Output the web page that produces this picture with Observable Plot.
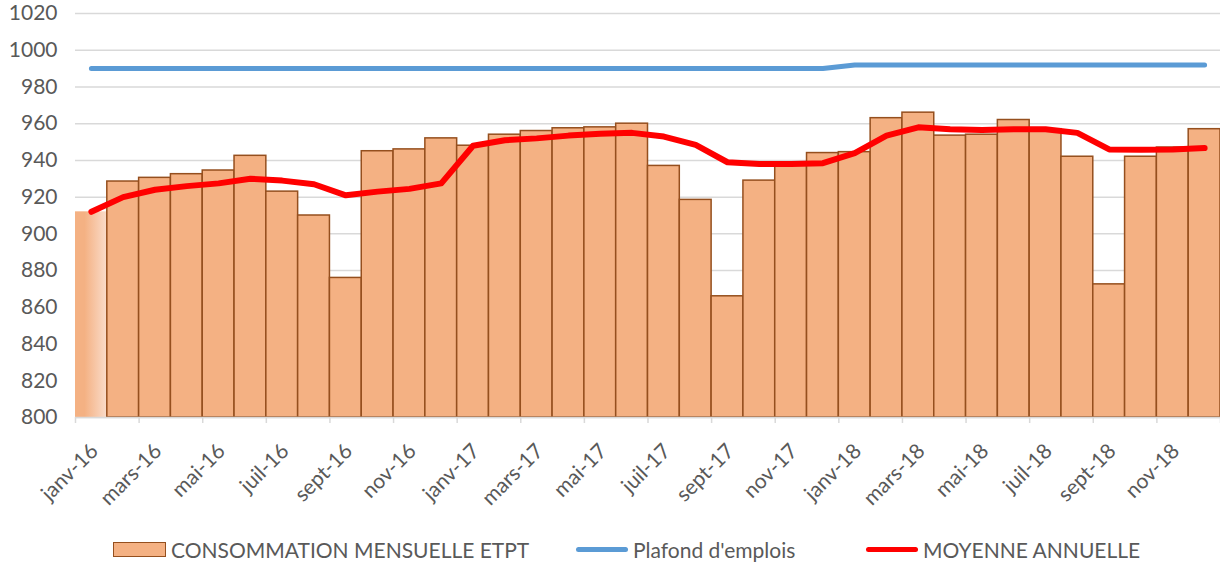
<!DOCTYPE html>
<html><head><meta charset="utf-8">
<script src="https://cdn.jsdelivr.net/npm/d3@7"></script>
<script src="https://cdn.jsdelivr.net/npm/@observablehq/plot@0.6"></script>
<style>
body{margin:0;background:#fff;font-family:Lato,"Open Sans",sans-serif;}
#chart svg{display:block;}
#legend{position:relative;height:55px;color:#595959;font-size:21px;}
.item{position:absolute;top:19px;display:flex;align-items:center;height:40px;white-space:nowrap;}
.sw-bar{width:51px;height:13px;background:#F4B183;border:1.5px solid #954F1E;margin-right:5px;}
.sw-line{width:52px;height:5px;border-radius:3px;margin-right:5px;}
</style></head><body>
<div id="chart"></div>
<div id="legend">
  <div class="item" style="left:113px"><div class="sw-bar"></div><span>CONSOMMATION MENSUELLE ETPT</span></div>
  <div class="item" style="left:576px"><div class="sw-line" style="background:#5B9BD5"></div><span>Plafond d'emplois</span></div>
  <div class="item" style="left:866px"><div class="sw-line" style="background:#FF0000"></div><span>MOYENNE ANNUELLE</span></div>
</div>
<script>
const months = ["janv-16","févr-16","mars-16","avr-16","mai-16","juin-16","juil-16","août-16","sept-16","oct-16","nov-16","déc-16",
  "janv-17","févr-17","mars-17","avr-17","mai-17","juin-17","juil-17","août-17","sept-17","oct-17","nov-17","déc-17",
  "janv-18","févr-18","mars-18","avr-18","mai-18","juin-18","juil-18","août-18","sept-18","oct-18","nov-18","déc-18"];
const consommation = [912, 928.5, 930.5, 932.5, 934.5, 942.5, 923, 910, 876, 945, 946, 952,
  948, 954, 956, 957.5, 958, 960, 937, 918.5, 866, 929, 938, 944,
  944.5, 963, 966, 953.5, 954, 962, 957, 942, 872.5, 942, 947, 957];
const plafond = [990, 990, 990, 990, 990, 990, 990, 990, 990, 990, 990, 990,
  990, 990, 990, 990, 990, 990, 990, 990, 990, 990, 990, 990,
  992, 992, 992, 992, 992, 992, 992, 992, 992, 992, 992, 992];
const moyenne = [912, 920, 924, 926, 927.5, 930, 929, 927, 921, 923, 924.5, 927.5,
  948, 951, 952, 953.5, 954.5, 955, 953, 948.5, 939, 938, 938, 938.5,
  944, 953.5, 958, 957, 956.5, 957, 957, 955, 946, 945.8, 946, 946.7];
const yTicks = [800, 820, 840, 860, 880, 900, 920, 940, 960, 980, 1000, 1020];

const data = months.map((m, i) => ({i, m, c: consommation[i], p: plafond[i], a: moyenne[i]}));
const first = data.slice(0, 1);
const rest = data.slice(1);
const xTicks = d3.range(0, 36, 2);
const xTickMarks = d3.range(0, 37, 2);

const defs = () => {
  const d = d3.create("svg:defs");
  const g = d.append("linearGradient").attr("id", "fade").attr("x1", "0").attr("x2", "1").attr("y1", "0").attr("y2", "0");
  g.append("stop").attr("offset", "0.3").attr("stop-color", "#F4B183");
  g.append("stop").attr("offset", "1").attr("stop-color", "#FADCCA");
  return d.node();
};

const chart = Plot.plot({
  width: 1220,
  height: 510,
  marginTop: 13,
  marginBottom: 93,
  marginLeft: 75,
  marginRight: 0,
  style: {fontFamily: "Lato, 'Open Sans', sans-serif", fontSize: "21px", color: "#595959", background: "#fff"},
  x: {type: "linear", domain: [0, 36], label: null},
  y: {domain: [800, 1020], label: null},
  marks: [
    defs,
    Plot.ruleY(yTicks, {stroke: "#D9D9D9", strokeWidth: 1.5}),
    Plot.axisY({ticks: yTicks, tickFormat: (d) => String(d), tickSize: 0, tickPadding: 18, fontSize: 21, fill: "#595959", label: null}),
    Plot.axisX({ticks: xTickMarks, tickFormat: () => "", tickSize: 6, stroke: "#D9D9D9", strokeWidth: 1.5, label: null}),
    Plot.axisX({ticks: xTicks, tickFormat: (d) => months[d], tickRotate: -45, tickSize: 0, tickPadding: 10, fill: "#595959", fontSize: 21, dx: 19, dy: 20, label: null}),
    Plot.rectY(first, {x1: "i", x2: (d) => d.i + 1, y1: 800, y2: "c", fill: "url(#fade)", insetLeft: 0, insetRight: 0}),
    Plot.rectY(rest, {x1: "i", x2: (d) => d.i + 1, y1: 800, y2: "c", fill: "#F4B183", stroke: "#954F1E", strokeWidth: 1.5, insetLeft: 0, insetRight: 0}),
    Plot.ruleY([800], {stroke: "#D9D9D9", strokeWidth: 1.5}),
    Plot.line(data, {x: (d) => d.i + 0.5, y: "p", stroke: "#5B9BD5", strokeWidth: 5, strokeLinecap: "round", strokeLinejoin: "round"}),
    Plot.line(data, {x: (d) => d.i + 0.5, y: "a", stroke: "#FF0000", strokeWidth: 6, strokeLinecap: "round", strokeLinejoin: "round"})
  ]
});
document.getElementById("chart").append(chart);
</script>
</body></html>
